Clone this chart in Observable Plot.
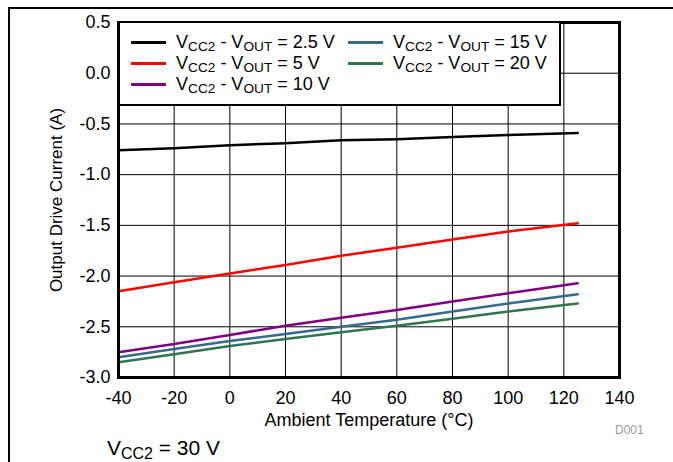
<!DOCTYPE html>
<html>
<head>
<meta charset="utf-8">
<script src="https://cdn.jsdelivr.net/npm/d3@7"></script>
<script src="https://cdn.jsdelivr.net/npm/@observablehq/plot@0.6"></script>
<style>
  body { margin: 0; background: #fff; font-family: "Liberation Sans", Arial, sans-serif; }
  #wrap { position: relative; width: 673px; height: 462px; overflow: hidden; }
  #outer { position: absolute; left: 8px; top: 7px; width: 700px; height: 500px; border-left: 2px solid #000; border-top: 2px solid #000; }
  #legend { position: absolute; left: 118px; top: 21px; width: 443px; height: 85px; background: #fff; border: 2.5px solid #000; box-sizing: border-box; font-size: 18px; color: #000; }
  .item { position: absolute; display: flex; align-items: center; white-space: nowrap; line-height: 20px; }
  .sw { width: 35px; height: 3px; margin-right: 10px; }
  sub { font-size: 0.76em; vertical-align: -0.25em; line-height: 0; }
  #cap { position: absolute; left: 107px; top: 436px; font-size: 21px; }
  #d001 { position: absolute; left: 615px; top: 423px; font-size: 12px; color: #999; }
</style>
</head>
<body>
<div id="wrap">
  <div id="chart"></div>
  <div id="outer"></div>
  <div id="legend"></div>
  <div id="d001">D001</div>
  <div id="cap">V<sub>CC2</sub> = 30 V</div>
</div>
<script>
const temps = [-40, -20, 0, 20, 40, 60, 80, 100, 125];
const i2_5 = [-0.76, -0.74, -0.71, -0.69, -0.66, -0.65, -0.63, -0.61, -0.59];
const i5   = [-2.15, -2.06, -1.975, -1.89, -1.80, -1.72, -1.64, -1.56, -1.48];
const i10  = [-2.75, -2.67, -2.58, -2.49, -2.41, -2.335, -2.25, -2.17, -2.07];
const i15  = [-2.80, -2.72, -2.64, -2.57, -2.50, -2.43, -2.35, -2.27, -2.18];
const i20  = [-2.85, -2.77, -2.69, -2.62, -2.555, -2.49, -2.42, -2.35, -2.27];
const seriesNames = ["2.5 V", "5 V", "10 V", "15 V", "20 V"];
const seriesColors = ["#000000", "#ff0000", "#800080", "#36698a", "#2f7550"];
const xTicks = [-40, -20, 0, 20, 40, 60, 80, 100, 120, 140];
const yTicks = [-3.0, -2.5, -2.0, -1.5, -1.0, -0.5, 0.0, 0.5];

const allSeries = [i2_5, i5, i10, i15, i20];
const data = [];
allSeries.forEach((arr, si) => arr.forEach((v, k) => data.push({t: temps[k], i: v, s: seriesNames[si]})));

const plot = Plot.plot({
  width: 673, height: 462,
  marginLeft: 118, marginRight: 54, marginTop: 22, marginBottom: 85,
  style: {fontFamily: "Liberation Sans, Arial, sans-serif", fontSize: "18px", color: "#000", background: "transparent"},
  x: {domain: [-40, 140], ticks: xTicks, tickFormat: d => String(d), label: "Ambient Temperature (°C)", labelArrow: "none", labelAnchor: "center", labelOffset: 48, tickSize: 0, tickPadding: 14},
  y: {domain: [-3.0, 0.5], ticks: yTicks, tickFormat: d => d.toFixed(1), label: "Output Drive Current (A)", labelArrow: "none", labelAnchor: "center", labelOffset: 69, tickSize: 0, tickPadding: 8},
  color: {domain: seriesNames, range: seriesColors},
  marks: [
    Plot.gridX(xTicks, {stroke: "#000", strokeOpacity: 1, strokeWidth: 1}),
    Plot.gridY(yTicks, {stroke: "#000", strokeOpacity: 1, strokeWidth: 1}),
    Plot.line(data, {x: "t", y: "i", z: "s", stroke: "s", strokeWidth: 2.5}),
    Plot.frame({stroke: "#000", strokeWidth: 3})
  ]
});
plot.querySelectorAll('[aria-label="y-axis label"] text').forEach(t => t.style.fontSize = "17px");
plot.querySelectorAll('[aria-label="x-axis label"] text').forEach(t => t.style.fontSize = "18px");
document.getElementById("chart").appendChild(plot);

const legend = document.getElementById("legend");
const pos = [[11, 20], [11, 41], [11, 62], [228, 20], [228, 41]];
seriesNames.forEach((n, k) => {
  const d = document.createElement("div");
  d.className = "item";
  d.style.left = pos[k][0] + "px";
  d.style.top = (pos[k][1] - 11) + "px";
  d.innerHTML = `<span class="sw" style="background:${seriesColors[k]}"></span><span>V<sub>CC2</sub> - V<sub>OUT</sub> = ${n}</span>`;
  legend.appendChild(d);
});
</script>
</body>
</html>
